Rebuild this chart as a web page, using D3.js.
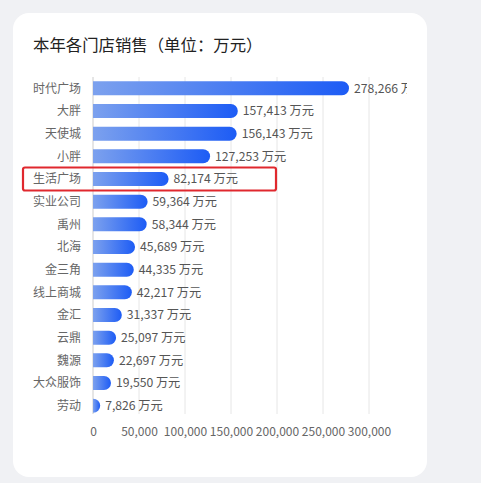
<!DOCTYPE html>
<html><head><meta charset="utf-8">
<script src="https://cdn.jsdelivr.net/npm/d3@7/dist/d3.min.js"></script>
<style>
html,body{margin:0;padding:0;background:#f0f1f4;}
svg{display:block;font-family:"Noto Sans CJK SC","Noto Sans",sans-serif;}
</style></head><body>
<svg id="c" width="481" height="483"></svg>
<script>
const stores = ["时代广场","大胖","天使城","小胖","生活广场","实业公司","禹州","北海","金三角","线上商城","金汇","云鼎","魏源","大众服饰","劳动"];
const sales = [278266,157413,156143,127253,82174,59364,58344,45689,44335,42217,31337,25097,22697,19550,7826];
const ticks = [0,50000,100000,150000,200000,250000,300000];
const highlight = "生活广场";
const title = "本年各门店销售（单位：万元）";

const svg = d3.select("#c");
svg.append("rect").attr("x",13).attr("y",13).attr("width",414).attr("height",464).attr("rx",16).attr("fill","#fff");
svg.append("text").attr("x",33).attr("y",51).attr("font-size",16.4).attr("font-weight",400).attr("fill","#222").text(title);

const defs = svg.append("defs");
const g1 = defs.append("linearGradient").attr("id","grad").attr("x1","0").attr("x2","1").attr("y1","0").attr("y2","0");
g1.append("stop").attr("offset","0%").attr("stop-color","#7ca1ee");
g1.append("stop").attr("offset","100%").attr("stop-color","#1d5cf5");
defs.append("clipPath").attr("id","clip").append("rect").attr("x",0).attr("y",0).attr("width",407).attr("height",483);

const x = d3.scaleLinear().domain([0,300000]).range([93,369]);
const y = d3.scaleBand().domain(stores).range([77,417]).paddingInner(0.38).paddingOuter(0.19);

const grid = svg.append("g");
grid.selectAll("line").data(ticks).join("line")
  .attr("x1",d=>x(d)).attr("x2",d=>x(d)).attr("y1",77).attr("y2",414)
  .attr("stroke",d=>d===0?"#ccc":"#e6e6e6").attr("stroke-width",1);

const axis = d3.axisBottom(x).tickValues(ticks).tickSize(0).tickFormat(d3.format(","));
const ax = svg.append("g").attr("transform","translate(0,424)").call(axis);
ax.select(".domain").remove();
ax.selectAll("text").attr("font-size",12).attr("fill","#666").attr("font-family","Noto Sans CJK SC, sans-serif");

const bh = y.bandwidth();
const bars = svg.append("g");
bars.selectAll("path").data(stores).join("path")
  .attr("fill","url(#grad)")
  .attr("d",(d,i)=>{
    const x0 = x(0), x1 = x(sales[i]), y0 = y(d), r = Math.min(bh/2, (x1-x0));
    return `M${x0},${y0}H${x1-r}A${r},${bh/2} 0 0 1 ${x1-r},${y0+bh}H${x0}Z`;
  });

svg.append("g").selectAll("text").data(stores).join("text")
  .attr("x",81).attr("y",d=>y(d)+bh/2).attr("dy","0.35em").attr("text-anchor","end")
  .attr("font-size",12).attr("fill","#666").text(d=>d);

svg.append("g").attr("clip-path","url(#clip)").selectAll("text").data(stores).join("text")
  .attr("x",(d,i)=>x(sales[i])+5).attr("y",d=>y(d)+bh/2).attr("dy","0.35em")
  .attr("font-size",12.2).attr("fill","#555").text((d,i)=>d3.format(",")(sales[i])+" 万元");

svg.append("rect").attr("x",23).attr("y",y(highlight)+bh/2-11.5).attr("width",253).attr("height",23)
  .attr("rx",2).attr("fill","none").attr("stroke","#e0282e").attr("stroke-width",2.2);
</script></body></html>
